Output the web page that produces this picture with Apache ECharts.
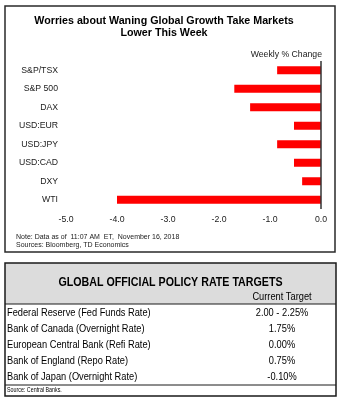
<!DOCTYPE html>
<html>
<head>
<meta charset="utf-8">
<script src="https://cdn.jsdelivr.net/npm/echarts@6/dist/echarts.min.js"></script>
<style>
  html, body { margin: 0; padding: 0; background: #ffffff; }
  #chart { width: 343px; height: 404px; }
</style>
</head>
<body>
<div id="chart"></div>
<script>
// Weekly % change of markets and currencies
const categories = ['S&P/TSX', 'S&P 500', 'DAX', 'USD:EUR', 'USD:JPY', 'USD:CAD', 'DXY', 'WTI'];
const weeklyChange = [-0.86, -1.70, -1.39, -0.53, -0.86, -0.53, -0.37, -4.00];
const xTicks = [-5, -4, -3, -2, -1, 0];

// Policy rate table
const banks = [
  'Federal Reserve (Fed Funds Rate)',
  'Bank of Canada (Overnight Rate)',
  'European Central Bank (Refi Rate)',
  'Bank of England (Repo Rate)',
  'Bank of Japan (Overnight Rate)'
];
const targets = ['2.00 - 2.25%', '1.75%', '0.00%', '0.75%', '-0.10%'];

const SANS = '"Liberation Sans", Arial, sans-serif';
// table text is drawn in a horizontally squeezed sans to get a narrow face
const NARROW_SCALE = 0.82;

const chart = echarts.init(document.getElementById('chart'), null, { renderer: 'canvas' });

const tableTop = 263, tableBottom = 396, tableLeft = 5, tableRight = 336;
const headerBottom = 304, sourceLine = 385;
const rowY0 = 313, rowStep = 16, valueX = 282;

function narrowText(x, y, text, font, align) {
  return {
    type: 'text', x: x, y: y, scaleX: NARROW_SCALE,
    style: { text: text, font: font, fill: '#000', align: align, verticalAlign: 'middle' }
  };
}

const graphics = [
  // chart frame
  { type: 'rect', shape: { x: 5, y: 6, width: 330, height: 246 },
    style: { fill: 'none', stroke: '#2a2a2a', lineWidth: 1.5 }, z: 10 },
  // title
  { type: 'text', x: 164, y: 27,
    style: { text: 'Worries about Waning Global Growth Take Markets\nLower This Week',
      font: 'bold 10.7px ' + SANS, fill: '#000', align: 'center', verticalAlign: 'middle', lineHeight: 12.5 } },
  { type: 'text', x: 322, y: 54.5,
    style: { text: 'Weekly % Change', font: '8.7px ' + SANS, fill: '#1a1a1a', align: 'right', verticalAlign: 'middle' } },
  { type: 'text', x: 16, y: 241,
    style: { text: 'Note: Data as of  11:07 AM  ET,  November 16, 2018\nSources: Bloomberg, TD Economics',
      font: '7px ' + SANS, fill: '#1a1a1a', align: 'left', verticalAlign: 'middle', lineHeight: 8.5 } },

  // table header background and frame
  { type: 'rect', shape: { x: tableLeft, y: tableTop, width: tableRight - tableLeft, height: headerBottom - tableTop },
    style: { fill: '#dcdcdc', stroke: 'none' } },
  { type: 'rect', shape: { x: tableLeft, y: tableTop, width: tableRight - tableLeft, height: tableBottom - tableTop },
    style: { fill: 'none', stroke: '#1a1a1a', lineWidth: 1.5 }, z: 10 },
  { type: 'line', shape: { x1: tableLeft, y1: headerBottom, x2: tableRight, y2: headerBottom },
    style: { stroke: '#1a1a1a', lineWidth: 1 } },
  { type: 'line', shape: { x1: tableLeft, y1: sourceLine, x2: tableRight, y2: sourceLine },
    style: { stroke: '#1a1a1a', lineWidth: 1 } },
  narrowText(170.5, 282, 'GLOBAL OFFICIAL POLICY RATE TARGETS', 'bold 13px ' + SANS, 'center'),
  narrowText(valueX, 297, 'Current Target', '11.3px ' + SANS, 'center'),
  narrowText(7, 390.5, 'Source: Central Banks.', '6.5px ' + SANS, 'left')
];

banks.forEach((name, i) => {
  const y = rowY0 + i * rowStep;
  graphics.push(narrowText(7, y, name, '11.3px ' + SANS, 'left'));
  graphics.push(narrowText(valueX, y, targets[i], '11.3px ' + SANS, 'center'));
});

chart.setOption({
  animation: false,
  backgroundColor: '#ffffff',
  grid: { left: 66, right: 22, top: 61, bottom: 195, containLabel: false },
  xAxis: {
    type: 'value',
    min: xTicks[0],
    max: xTicks[xTicks.length - 1],
    interval: 1,
    axisLine: { show: false },
    axisTick: { show: false },
    splitLine: { show: false },
    axisLabel: {
      margin: 6,
      color: '#1a1a1a',
      fontFamily: SANS,
      fontSize: 8.7,
      formatter: v => v.toFixed(1)
    }
  },
  yAxis: {
    type: 'category',
    data: categories,
    inverse: true,
    axisLine: { show: false },
    axisTick: { show: false },
    splitLine: { show: false },
    axisLabel: { margin: 8, color: '#1a1a1a', fontFamily: SANS, fontSize: 8.7 }
  },
  series: [{
    type: 'bar',
    data: weeklyChange,
    barWidth: 8,
    itemStyle: { color: '#ff0000' },
    markLine: {
      silent: true,
      symbol: 'none',
      label: { show: false },
      lineStyle: { color: '#333333', width: 1.5, type: 'solid' },
      data: [{ xAxis: 0 }]
    }
  }],
  graphic: graphics
});
</script>
</body>
</html>
